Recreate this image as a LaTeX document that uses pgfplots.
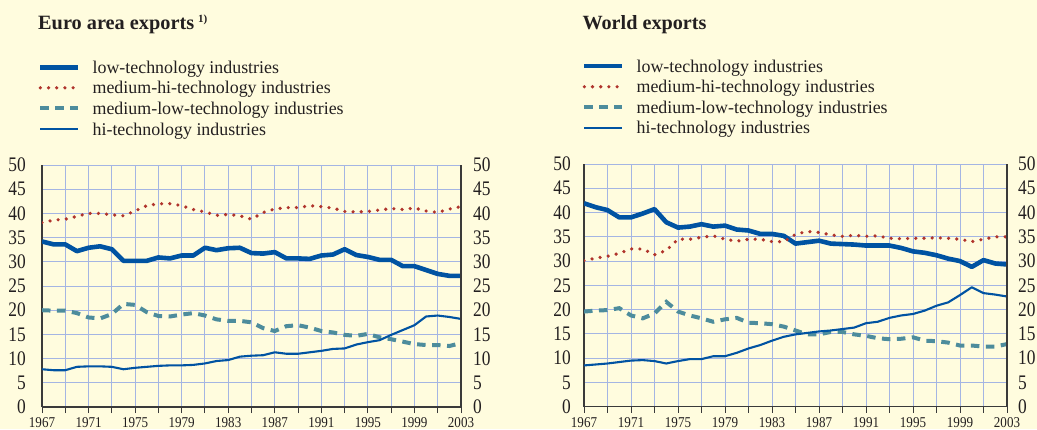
\documentclass[border=0pt]{standalone}
\usepackage{pgfplots}
\usepackage{pgfplotstable}
\pgfplotsset{compat=1.18}
\usepackage{fontspec}
\setmainfont{Liberation Serif}
\newfontfamily\condfont[FakeStretch=0.84]{Liberation Serif}
\newfontfamily\condxfont[FakeStretch=0.87]{Liberation Serif}
\definecolor{bgc}{HTML}{FFFCDE}
\definecolor{gridc}{HTML}{A4B5E3}
\definecolor{axc}{HTML}{3A3A3A}
\definecolor{blu}{HTML}{0053A2}
\definecolor{redc}{HTML}{B0342C}
\definecolor{tealc}{HTML}{4D8C9C}
\definecolor{txtc}{HTML}{231F20}

\pgfplotstableread{
year LT MH ML HT
1967 34.2 38.1 20.0 7.8
1968 33.6 38.6 19.9 7.6
1969 33.6 38.8 19.9 7.6
1970 32.2 39.4 19.4 8.3
1971 32.9 40.0 18.5 8.4
1972 33.2 40.0 18.3 8.4
1973 32.6 39.7 19.2 8.3
1974 30.2 39.5 21.3 7.8
1975 30.2 40.5 21.1 8.1
1976 30.2 41.6 19.6 8.3
1977 30.9 42.0 18.8 8.5
1978 30.7 42.0 18.7 8.6
1979 31.3 41.6 19.1 8.6
1980 31.3 40.8 19.4 8.7
1981 32.9 40.3 18.9 9.0
1982 32.4 39.6 18.1 9.5
1983 32.8 39.8 17.8 9.7
1984 32.9 39.5 17.8 10.4
1985 31.8 38.8 17.5 10.6
1986 31.7 40.2 16.3 10.7
1987 32.0 40.9 15.7 11.3
1988 30.7 41.2 16.7 11.0
1989 30.7 41.2 16.9 11.0
1990 30.6 41.6 16.4 11.3
1991 31.3 41.4 15.7 11.6
1992 31.5 41.1 15.4 12.0
1993 32.6 40.4 14.9 12.1
1994 31.4 40.3 14.7 12.9
1995 31.0 40.4 15.1 13.4
1996 30.4 40.7 14.4 13.8
1997 30.4 41.0 14.0 14.9
1998 29.1 40.8 13.5 15.9
1999 29.1 41.1 13.0 16.9
2000 28.3 40.5 12.8 18.7
2001 27.5 40.2 12.8 18.9
2002 27.1 40.9 12.6 18.6
2003 27.1 41.4 13.2 18.2
}\euro

\pgfplotstableread{
year LT MH ML HT
1967 41.9 30.1 19.6 8.5
1968 41.1 30.6 19.8 8.7
1969 40.5 31.0 19.9 8.9
1970 39.0 31.6 20.3 9.2
1971 39.0 32.5 18.8 9.5
1972 39.8 32.5 18.2 9.6
1973 40.7 31.3 19.2 9.4
1974 38.0 32.2 21.6 8.9
1975 36.9 34.5 19.6 9.4
1976 37.1 34.5 18.8 9.8
1977 37.6 34.9 18.2 9.8
1978 37.1 35.2 17.5 10.4
1979 37.3 34.5 18.0 10.4
1980 36.5 34.1 18.3 11.1
1981 36.3 34.5 17.3 12.0
1982 35.6 34.5 17.2 12.7
1983 35.6 34.0 17.0 13.6
1984 35.2 34.0 16.5 14.4
1985 33.6 35.5 15.7 14.9
1986 33.9 36.1 14.9 15.2
1987 34.2 35.9 14.9 15.5
1988 33.6 35.4 15.4 15.7
1989 33.5 35.1 15.4 16.0
1990 33.4 35.3 14.9 16.3
1991 33.2 35.1 14.6 17.2
1992 33.2 35.2 14.1 17.5
1993 33.2 34.7 13.9 18.3
1994 32.7 34.6 14.0 18.8
1995 32.0 34.7 14.3 19.1
1996 31.7 34.7 13.6 19.8
1997 31.2 34.8 13.5 20.8
1998 30.5 34.7 13.2 21.5
1999 30.0 34.5 12.6 23.0
2000 28.8 34.0 12.6 24.6
2001 30.2 34.5 12.4 23.4
2002 29.5 35.0 12.4 23.1
2003 29.3 35.0 12.9 22.7
}\world

\pgfplotsset{
 panel/.style={
  scale only axis, anchor=south west,
  xmin=1967, xmax=2003, ymin=0, ymax=50,
  xtick={1967,1971,...,2003}, minor xtick={1969,1973,...,2001},
  ytick={0,5,...,50},
  grid=both,
  major grid style={draw=gridc, line width=0.9pt},
  minor grid style={draw=gridc, line width=0.9pt},
  axis x line*=bottom, axis y line*=left,
  axis line style={-, draw=axc, line width=1.3pt},
  x tick style={draw=axc, line width=1pt},
  minor x tick style={draw=axc, line width=1pt},
  y tick style={draw=none},
  major tick length=6pt, minor tick length=6pt, tick align=outside,
  /pgf/number format/assume math mode=true,
  /pgf/number format/set thousands separator={},
  xticklabel style={font=\condxfont\fontsize{15}{15}\selectfont, text=txtc, inner ysep=0pt, yshift=-4.5pt},
  yticklabel style={font=\condfont\fontsize{20.7}{20.7}\selectfont, text=txtc, inner xsep=0pt},
  legend style={anchor=north west, draw=none, fill=none, inner sep=0pt, outer sep=0pt,
    font=\fontsize{17.9}{17.9}\selectfont, text=txtc, row sep=3.6pt, column sep=12pt,
    nodes={inner sep=0pt, text height=12.5pt, text depth=4.5pt}},
  legend cell align=left,
  legend image code/.code={\draw[##1] (0pt,2pt) -- (38pt,2pt);},
 },
 rside/.style={
  scale only axis, anchor=south west,
  xmin=1967, xmax=2003, ymin=0, ymax=50,
  axis x line=none, axis y line*=right,
  axis line style={-, draw=axc, line width=1.3pt},
  ytick={0,5,...,50}, y tick style={draw=none}, major tick length=6pt, tick align=outside,
  /pgf/number format/assume math mode=true,
  yticklabel style={font=\condfont\fontsize{20.7}{20.7}\selectfont, text=txtc, inner xsep=0pt},
 },
 lt/.style={draw=blu, line width=4.6pt, line join=round},
 mh/.style={draw=redc, line width=3.6pt, line cap=round, dash pattern=on 0pt off 8.2pt},
 ml/.style={draw=tealc, line width=4pt, dash pattern=on 8.5pt off 6.5pt},
 ht/.style={draw=blu, line width=2.1pt, line join=round},
}

\begin{document}
\begin{tikzpicture}[x=1pt,y=1pt]
\fill[bgc] (0,0) rectangle (1037,429);

% Euro area panel
\begin{axis}[panel, at={(42pt,22pt)}, width=419pt, height=242pt,
  yticklabel style={xshift=-10pt},
  legend style={at={(-0.0095,1.431)}}]
\addplot[lt] table[x=year,y=LT] {\euro};
\addlegendentry{low-technology industries}
\addplot[mh] table[x=year,y=MH] {\euro};
\addlegendentry{medium-hi-technology industries}
\addplot[ml] table[x=year,y=ML] {\euro};
\addlegendentry{medium-low-technology industries}
\addplot[ht] table[x=year,y=HT] {\euro};
\addlegendentry{hi-technology industries}
\end{axis}
\begin{axis}[rside, at={(42pt,22pt)}, width=419pt, height=242pt,
  yticklabel style={xshift=6pt}]
\addplot[draw=none] coordinates {(1967,0)};
\end{axis}

% World panel
\begin{axis}[panel, at={(584pt,22.3pt)}, width=423pt, height=242.7pt,
  yticklabel style={xshift=-7pt},
  legend style={at={(-0.0047,1.430)}}]
\addplot[lt] table[x=year,y=LT] {\world};
\addlegendentry{low-technology industries}
\addplot[mh] table[x=year,y=MH] {\world};
\addlegendentry{medium-hi-technology industries}
\addplot[ml] table[x=year,y=ML] {\world};
\addlegendentry{medium-low-technology industries}
\addplot[ht] table[x=year,y=HT] {\world};
\addlegendentry{hi-technology industries}
\end{axis}
\begin{axis}[rside, at={(584pt,22.3pt)}, width=423pt, height=242.7pt,
  yticklabel style={xshift=5pt}]
\addplot[draw=none] coordinates {(1967,0)};
\end{axis}

\node[anchor=base west, font=\fontsize{20.3}{20.3}\selectfont\bfseries, text=txtc, inner sep=0pt]
  at (38,399) {Euro area exports\hspace{4pt}\raisebox{0.38em}{\fontsize{11}{11}\selectfont 1)}};
\node[anchor=base west, font=\fontsize{20.2}{20.2}\selectfont\bfseries, text=txtc, inner sep=0pt]
  at (582.3,399) {World exports};

\pgfresetboundingbox
\path[use as bounding box] (0,0) rectangle (1037,429);
\end{tikzpicture}
\end{document}
